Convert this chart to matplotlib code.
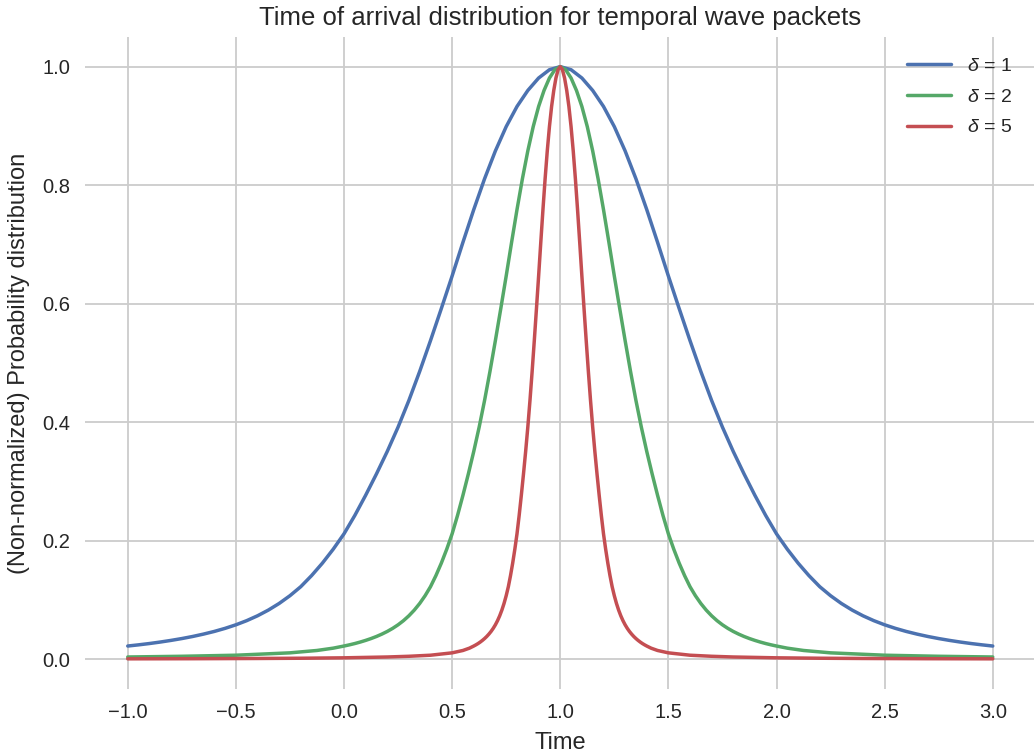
import matplotlib
matplotlib.use("Agg")
import matplotlib.pyplot as plt

# values (time, non-normalized probability)
time_d1 = [-1.00, -0.95, -0.90, -0.85, -0.80, -0.75, -0.70, -0.65, -0.60, -0.55,
           -0.50, -0.45, -0.40, -0.35, -0.30, -0.25, -0.20, -0.15, -0.10, -0.05,
           0.00, 0.05, 0.10, 0.15, 0.20, 0.25, 0.30, 0.35, 0.40, 0.45,
           0.50, 0.55, 0.60, 0.65, 0.70, 0.75, 0.80, 0.85, 0.90, 0.95,
           1.00,
           1.05, 1.10, 1.15, 1.20, 1.25, 1.30, 1.35, 1.40, 1.45, 1.50,
           1.55, 1.60, 1.65, 1.70, 1.75, 1.80, 1.85, 1.90, 1.95, 2.00,
           2.05, 2.10, 2.15, 2.20, 2.25, 2.30, 2.35, 2.40, 2.45, 2.50,
           2.55, 2.60, 2.65, 2.70, 2.75, 2.80, 2.85, 2.90, 2.95, 3.00]
prob_d1 = [0.0225, 0.0245, 0.0267, 0.0292, 0.0320, 0.0351, 0.0386, 0.0426, 0.0471, 0.0523,
           0.0583, 0.0653, 0.0735, 0.0831, 0.0943, 0.1074, 0.1226, 0.1413, 0.1623, 0.1858,
           0.2118, 0.2428, 0.2768, 0.3128, 0.3508, 0.3918, 0.4368, 0.4858, 0.5378, 0.5918,
           0.6468, 0.7036, 0.7588, 0.8108, 0.8578, 0.8988, 0.9328, 0.9598, 0.9808, 0.9948,
           1.0,
           0.9948, 0.9808, 0.9598, 0.9328, 0.8988, 0.8578, 0.8108, 0.7588, 0.7036, 0.6468,
           0.5918, 0.5378, 0.4858, 0.4368, 0.3918, 0.3508, 0.3128, 0.2768, 0.2428, 0.2118,
           0.1858, 0.1623, 0.1413, 0.1226, 0.1074, 0.0943, 0.0831, 0.0735, 0.0653, 0.0583,
           0.0523, 0.0471, 0.0426, 0.0386, 0.0351, 0.0320, 0.0292, 0.0267, 0.0245, 0.0225]

time_d2 = [-1.0, -0.75, -0.5, -0.25, -0.125, -0.05,
           0.000, 0.025, 0.050, 0.075, 0.100, 0.125, 0.150, 0.175, 0.200, 0.225,
           0.250, 0.275, 0.300, 0.325, 0.350, 0.375, 0.400, 0.425, 0.450, 0.475,
           0.500, 0.525, 0.550, 0.575, 0.600, 0.625, 0.650, 0.675, 0.700, 0.725,
           0.750, 0.775, 0.800, 0.825, 0.850, 0.875, 0.900, 0.925, 0.950, 0.975,
           1.000,
           1.025, 1.050, 1.075, 1.100, 1.125, 1.150, 1.175, 1.200, 1.225, 1.250,
           1.275, 1.300, 1.325, 1.350, 1.375, 1.400, 1.425, 1.450, 1.475, 1.500,
           1.525, 1.550, 1.575, 1.600, 1.625, 1.650, 1.675, 1.700, 1.725, 1.750,
           1.775, 1.800, 1.825, 1.850, 1.875, 1.900, 1.925, 1.950, 1.975, 2.000,
           2.05, 2.125, 2.25, 2.5, 2.75, 3.0]
prob_d2 = [0.0040, 0.0052, 0.0070, 0.0110, 0.0150, 0.0189,
           0.0225, 0.0245, 0.0267, 0.0292, 0.0320, 0.0351, 0.0386, 0.0426, 0.0471, 0.0523,
           0.0583, 0.0653, 0.0735, 0.0831, 0.0943, 0.1074, 0.1226, 0.1413, 0.1623, 0.1858,
           0.2118, 0.2428, 0.2768, 0.3128, 0.3508, 0.3918, 0.4368, 0.4858, 0.5378, 0.5918,
           0.6468, 0.7036, 0.7588, 0.8108, 0.8578, 0.8988, 0.9328, 0.9598, 0.9808, 0.9948,
           1.0,
           0.9948, 0.9808, 0.9598, 0.9328, 0.8988, 0.8578, 0.8108, 0.7588, 0.7036, 0.6468,
           0.5918, 0.5378, 0.4858, 0.4368, 0.3918, 0.3508, 0.3128, 0.2768, 0.2428, 0.2118,
           0.1858, 0.1623, 0.1413, 0.1226, 0.1074, 0.0943, 0.0831, 0.0735, 0.0653, 0.0583,
           0.0523, 0.0471, 0.0426, 0.0386, 0.0351, 0.0320, 0.0292, 0.0267, 0.0245, 0.0225,
           0.0189, 0.0150, 0.0110, 0.0070, 0.0052, 0.0040]

time_d5 = [-1.0, -0.7, -0.4, -0.2, 0.0, 0.2, 0.3, 0.4, 0.5, 0.55, 0.58,
           0.60, 0.61, 0.62, 0.63, 0.64, 0.65, 0.66, 0.67, 0.68, 0.69,
           0.70, 0.71, 0.72, 0.73, 0.74, 0.75, 0.76, 0.77, 0.78, 0.79,
           0.80, 0.81, 0.82, 0.83, 0.84, 0.85, 0.86, 0.87, 0.88, 0.89,
           0.90, 0.91, 0.92, 0.93, 0.94, 0.95, 0.96, 0.97, 0.98, 0.99,
           1.00,
           1.01, 1.02, 1.03, 1.04, 1.05, 1.06, 1.07, 1.08, 1.09, 1.10,
           1.11, 1.12, 1.13, 1.14, 1.15, 1.16, 1.17, 1.18, 1.19, 1.20,
           1.21, 1.22, 1.23, 1.24, 1.25, 1.26, 1.27, 1.28, 1.29, 1.30,
           1.31, 1.32, 1.33, 1.34, 1.35, 1.36, 1.37, 1.38, 1.39, 1.40,
           1.42, 1.45, 1.5, 1.6, 1.7, 1.8, 2.0, 2.2, 2.4, 2.7, 3.0]
prob_d5 = [0.0009, 0.0011, 0.0015, 0.0019, 0.0026, 0.0040, 0.0052, 0.0070, 0.0110, 0.0150, 0.0189,
           0.0225, 0.0245, 0.0267, 0.0292, 0.0320, 0.0351, 0.0386, 0.0426, 0.0471, 0.0523,
           0.0583, 0.0653, 0.0735, 0.0831, 0.0943, 0.1074, 0.1226, 0.1413, 0.1623, 0.1858,
           0.2118, 0.2428, 0.2768, 0.3128, 0.3508, 0.3918, 0.4368, 0.4858, 0.5378, 0.5918,
           0.6468, 0.7036, 0.7588, 0.8108, 0.8578, 0.8988, 0.9328, 0.9598, 0.9808, 0.9948,
           1.0,
           0.9948, 0.9808, 0.9598, 0.9328, 0.8988, 0.8578, 0.8108, 0.7588, 0.7036, 0.6468,
           0.5918, 0.5378, 0.4858, 0.4368, 0.3918, 0.3508, 0.3128, 0.2768, 0.2428, 0.2118,
           0.1858, 0.1623, 0.1413, 0.1226, 0.1074, 0.0943, 0.0831, 0.0735, 0.0653, 0.0583,
           0.0523, 0.0471, 0.0426, 0.0386, 0.0351, 0.0320, 0.0292, 0.0267, 0.0245, 0.0225,
           0.0189, 0.0150, 0.0110, 0.0070, 0.0052, 0.0040, 0.0026, 0.0019, 0.0015, 0.0011, 0.0009]

SERIES = [
    (time_d1, prob_d1, r"$\delta$ = 1", "#4C72B0"),
    (time_d2, prob_d2, r"$\delta$ = 2", "#55A868"),
    (time_d5, prob_d5, r"$\delta$ = 5", "#C44E52"),
]

plt.rcParams["font.family"] = ["Liberation Sans", "DejaVu Sans"]
plt.rcParams["mathtext.fontset"] = "custom"
plt.rcParams["mathtext.it"] = "Liberation Sans:italic"
plt.rcParams["mathtext.rm"] = "Liberation Sans"
text_color = "#262626"

W, H = 1034, 753
fig = plt.figure(figsize=(W / 100, H / 100), dpi=100)
ax = fig.add_axes([84.5 / W, 1 - 689 / H, 951.5 / W, (689 - 37) / H])

for t, p, label, color in SERIES:
    ax.plot(t, p, color=color, linewidth=2.5, label=label,
            solid_capstyle="round", solid_joinstyle="round")

ax.set_xlim(-1.2, 3.2)
ax.set_ylim(-0.05, 1.05)
ax.set_xticks([-1.0, -0.5, 0.0, 0.5, 1.0, 1.5, 2.0, 2.5, 3.0])
ax.set_yticks([0.0, 0.2, 0.4, 0.6, 0.8, 1.0])
ax.grid(color="#cccccc", linewidth=1.3)
ax.set_axisbelow(True)
for spine in ax.spines.values():
    spine.set_visible(False)
ax.tick_params(length=0, labelsize=14.5, labelcolor=text_color, pad=10)

ax.set_title("Time of arrival distribution for temporal wave packets",
             fontsize=18.5, color=text_color, pad=9)
ax.set_xlabel("Time", fontsize=17, color=text_color, labelpad=7)
ax.set_ylabel("(Non-normalized) Probability distribution", fontsize=17,
              color=text_color, labelpad=9)

leg = ax.legend(loc="upper right", bbox_to_anchor=(0.983, 0.981), frameon=False,
                fontsize=14, handlelength=2.3, labelspacing=0.68, borderaxespad=0)
for txt in leg.get_texts():
    txt.set_color(text_color)

fig.savefig("out.png", dpi=100)
